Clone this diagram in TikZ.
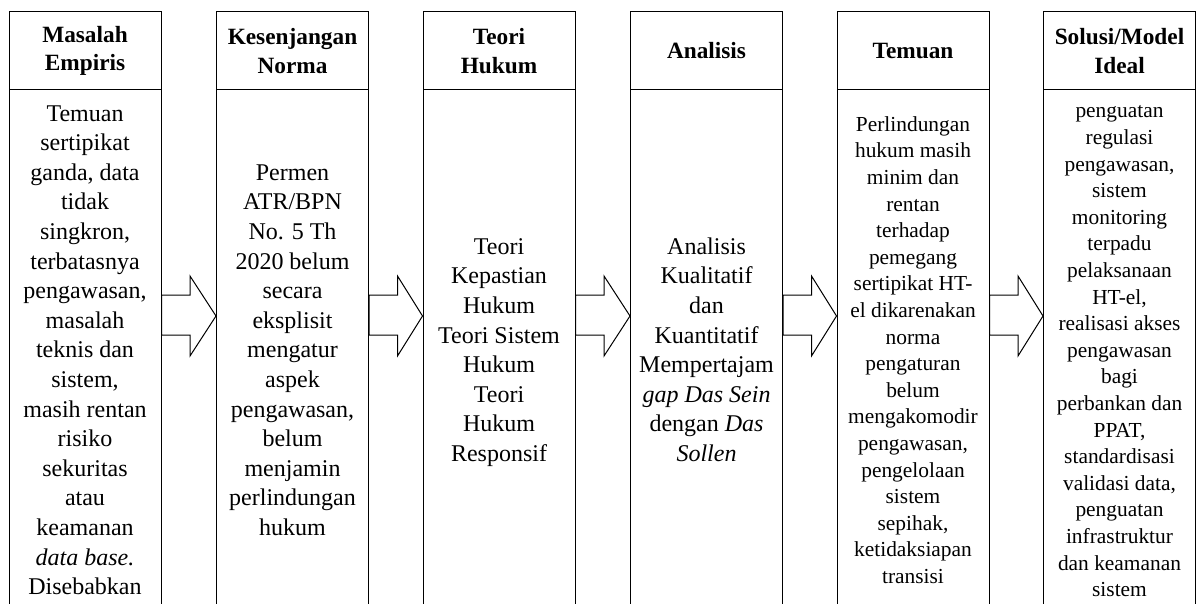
\documentclass[tikz,border=0pt]{standalone}
\usepackage{fontspec}
\setmainfont{Liberation Serif}
\usetikzlibrary{calc}
\tikzset{
  colhead/.style={draw, line width=1pt, minimum width=152pt, minimum height=78pt, inner sep=0pt, align=center, font=\fontsize{23.3}{28.5}\selectfont\bfseries},
  colbody/.style={draw, line width=1pt, minimum width=152pt, minimum height=524pt, inner sep=0pt, align=center, font=\fontsize{24}{29.6}\selectfont},
  smallbody/.style={colbody, font=\fontsize{21.4}{26.6}\selectfont},
  blockarrow/.style={draw, fill=white, line width=1pt, line join=miter}
}
\newcommand\flowarrow[2]{%
  \draw[blockarrow] (#1.east |- 0,295) -- ($(#1.east |- 0,295)+(28.5,0)$) -- ($(#1.east |- 0,276)+(28.5,0)$) -- (#2.west |- 0,316) -- ($(#1.east |- 0,356)+(28.5,0)$) -- ($(#1.east |- 0,335)+(28.5,0)$) -- (#1.east |- 0,335) -- cycle;}
\begin{document}
\begin{tikzpicture}[x=1pt,y=-1pt]
\useasboundingbox (0,0) rectangle (1196,604);
% headers
\node[colhead] (h1) at (85,51) {Masalah\\Empiris};
\node[colhead] (h2) at (292.5,51) {Kesenjangan\\Norma};
\node[colhead] (h3) at (499,51) {Teori\\Hukum};
\node[colhead] (h4) at (706.5,51) {Analisis};
\node[colhead] (h5) at (913,51) {Temuan};
\node[colhead] (h6) at (1119.5,51) {Solusi/Model\\Ideal};
% bodies
\node[colbody] (b1) at (85,352) {\strut Temuan\\sertipikat\\ganda, data\\tidak\\singkron,\\terbatasnya\\pengawasan,\\masalah\\teknis dan\\sistem,\\masih rentan\\risiko\\sekuritas\\atau\\keamanan\\\textit{data base.}\\Disebabkan\strut};
\node[colbody] (b2) at (292.5,352) {\strut Permen\\ATR/BPN\\No. 5 Th\\2020 belum\\secara\\eksplisit\\mengatur\\aspek\\pengawasan,\\belum\\menjamin\\perlindungan\\hukum\strut};
\node[colbody] (b3) at (499,352) {\strut Teori\\Kepastian\\Hukum\\Teori Sistem\\Hukum\\Teori\\Hukum\\Responsif\strut};
\node[colbody] (b4) at (706.5,352) {\strut Analisis\\Kualitatif\\dan\\Kuantitatif\\Mempertajam\\\textit{gap Das Sein}\\dengan \textit{Das}\\\textit{Sollen}\strut};
\node[smallbody] (b5) at (913,352) {\strut Perlindungan\\hukum masih\\minim dan\\rentan\\terhadap\\pemegang\\sertipikat HT-\\el dikarenakan\\norma\\pengaturan\\belum\\mengakomodir\\pengawasan,\\pengelolaan\\sistem\\sepihak,\\ketidaksiapan\\transisi\strut};
\node[smallbody] (b6) at (1119.5,352) {\strut penguatan\\regulasi\\pengawasan,\\sistem\\monitoring\\terpadu\\pelaksanaan\\HT-el,\\realisasi akses\\pengawasan\\bagi\\perbankan dan\\PPAT,\\standardisasi\\validasi data,\\penguatan\\infrastruktur\\dan keamanan\\sistem\strut};
% arrows
\flowarrow{b1}{b2}
\flowarrow{b2}{b3}
\flowarrow{b3}{b4}
\flowarrow{b4}{b5}
\flowarrow{b5}{b6}
\end{tikzpicture}
\end{document}
